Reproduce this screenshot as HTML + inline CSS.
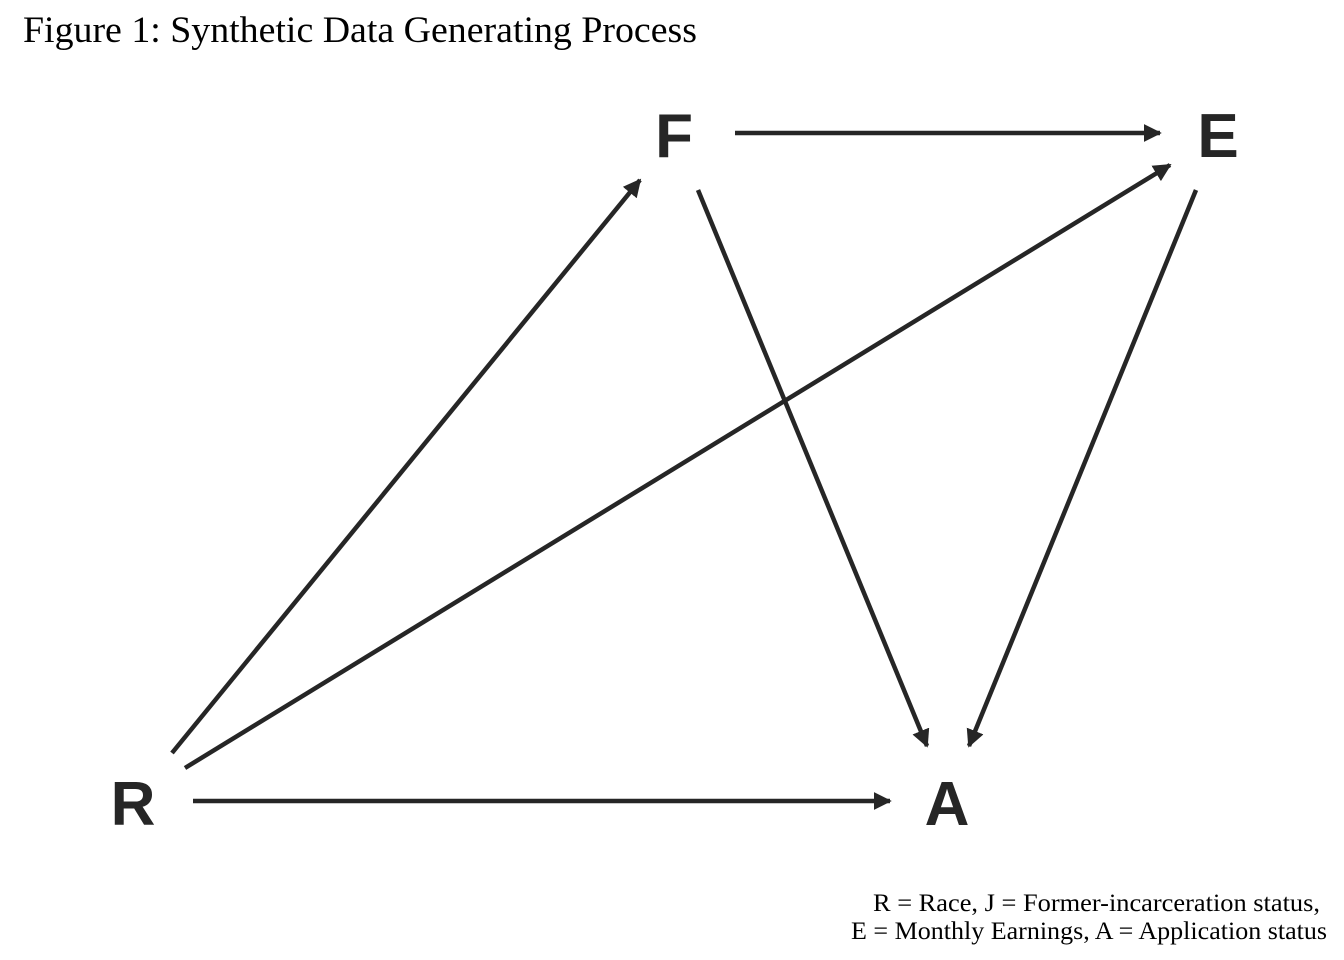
<!DOCTYPE html>
<html><head><meta charset="utf-8"><style>
html,body{margin:0;padding:0;background:#fff;width:1344px;height:960px;overflow:hidden}
</style></head><body>
<svg width="1344" height="960" viewBox="0 0 1344 960" xmlns="http://www.w3.org/2000/svg">
<defs>
<marker id="ah" viewBox="0 0 10 10" refX="9" refY="5" markerWidth="4" markerHeight="4" orient="auto" markerUnits="strokeWidth">
<path d="M0,0 L10,5 L0,10 z" fill="#262626"/>
</marker>
</defs>
<text x="23" y="42" font-family="Liberation Serif, serif" font-size="37" textLength="674" lengthAdjust="spacingAndGlyphs" fill="#000">Figure 1: Synthetic Data Generating Process</text>
<g stroke="#262626" stroke-width="4.5" fill="none" marker-end="url(#ah)">
<line x1="735" y1="133" x2="1160" y2="133"/>
<line x1="172" y1="753" x2="640" y2="180"/>
<line x1="185" y1="768" x2="1170" y2="165"/>
<line x1="698" y1="190" x2="927" y2="746"/>
<line x1="1196" y1="190" x2="969" y2="746"/>
<line x1="193" y1="801" x2="890" y2="801"/>
</g>
<g font-family="Liberation Sans, sans-serif" font-weight="bold" font-size="62" fill="#262626" text-anchor="middle">
<text x="674" y="157">F</text>
<text x="1218" y="157">E</text>
<text x="133" y="825">R</text>
<text x="947" y="825">A</text>
</g>
<g font-family="Liberation Serif, serif" font-size="25" fill="#000">
<text x="873" y="911" textLength="447" lengthAdjust="spacingAndGlyphs">R = Race, J = Former-incarceration status,</text>
<text x="851" y="939" textLength="476" lengthAdjust="spacingAndGlyphs">E = Monthly Earnings, A = Application status</text>
</g>
</svg>
</body></html>
